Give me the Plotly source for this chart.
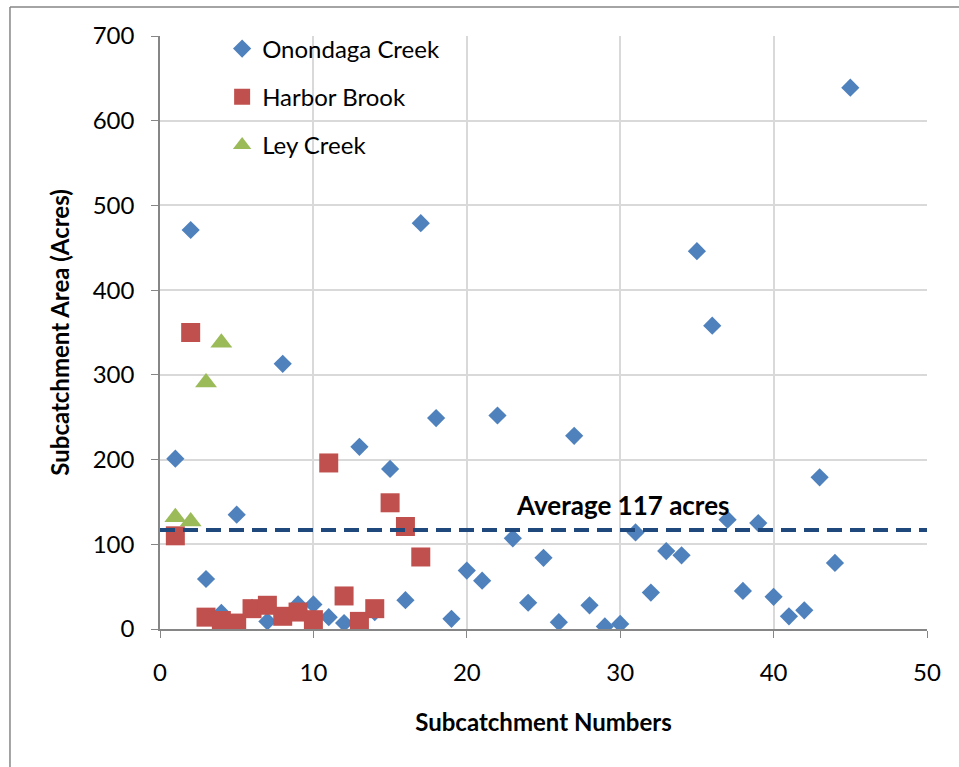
import plotly.graph_objects as go

# Onondaga Creek subcatchments
on_x = list(range(1, 46))
on_y = [201, 471, 59, 19, 135, 25, 9, 313, 29, 29,
        14, 7, 215, 20, 189, 34, 479, 249, 12, 69,
        57, 252, 107, 31, 84, 8, 228, 28, 3, 6,
        114, 43, 92, 87, 446, 358, 129, 45, 125, 38,
        15, 22, 179, 78, 639]

# Harbor Brook subcatchments
hb_x = list(range(1, 18))
hb_y = [110, 350, 14, 10, 7, 24, 28, 15, 20, 11,
        196, 39, 9, 24, 149, 121, 85]

# Ley Creek subcatchments
ley_x = [1, 2, 3, 4]
ley_y = [132, 127, 291, 338]

avg_value = 117
avg_x = [0, 50]
avg_y = [avg_value, avg_value]

FONT = "Lato, Calibri, Carlito, 'Open Sans', sans-serif"

fig = go.Figure()
fig.add_trace(go.Scatter(x=on_x, y=on_y, mode="markers", name="Onondaga Creek",
                         legendgroup="a",
                         marker=dict(symbol="diamond", size=14, color="#4F81BD")))
fig.add_trace(go.Scatter(x=hb_x, y=hb_y, mode="markers", name="Harbor Brook",
                         legendgroup="b",
                         marker=dict(symbol="square", size=19, color="#C0504D")))
fig.add_trace(go.Scatter(x=ley_x, y=ley_y, mode="markers", name="Ley Creek",
                         legendgroup="c",
                         marker=dict(symbol="triangle-up", size=19, color="#9BBB59")))
fig.add_trace(go.Scatter(x=avg_x, y=avg_y, mode="lines", showlegend=False,
                         line=dict(color="#1F497D", width=4, dash="15px,8px")))

fig.add_annotation(x=30.2, y=146, text="<b>Average 117 acres</b>", showarrow=False,
                   font=dict(family=FONT, size=26, color="#000000"))

# outer chart frame
fig.add_shape(type="line", xref="paper", yref="paper",
              x0=-0.1956, x1=-0.1956, y0=1.0489, y1=-0.25,
              line=dict(color="#868686", width=1.5))
fig.add_shape(type="line", xref="paper", yref="paper",
              x0=-0.1956, x1=1.06, y0=1.0489, y1=1.0489,
              line=dict(color="#868686", width=1.5))

fig.update_layout(
    width=959, height=767,
    margin=dict(l=160, r=32, t=36, b=138),
    paper_bgcolor="white", plot_bgcolor="white",
    font=dict(family=FONT, size=24, color="#000000"),
    showlegend=True,
    legend=dict(x=0.081, y=1.016, xanchor="left", yanchor="top",
                bgcolor="rgba(0,0,0,0)", tracegroupgap=14,
                font=dict(family=FONT, size=24, color="#000000")),
    xaxis=dict(range=[0, 50], dtick=10, showgrid=True, gridcolor="#D9D9D9", gridwidth=1.5,
               zeroline=False, showline=True, linecolor="#868686", linewidth=1.5,
               ticks="outside", ticklen=7, tickcolor="#868686", ticklabelstandoff=14,
               tickfont=dict(family=FONT, size=24),
               title=dict(text="<b>Subcatchment Numbers</b>", standoff=30,
                          font=dict(family=FONT, size=24))),
    yaxis=dict(range=[0, 700], dtick=100, showgrid=True, gridcolor="#D9D9D9", gridwidth=1.5,
               zeroline=False, showline=True, linecolor="#868686", linewidth=1.5,
               ticks="outside", ticklen=7, tickcolor="#868686", ticklabelstandoff=12,
               tickfont=dict(family=FONT, size=24),
               title=dict(text="<b>Subcatchment Area (Acres)</b>", standoff=16,
                          font=dict(family=FONT, size=24))),
)

fig.write_html("out.html", config={"displayModeBar": False},
               post_script="document.body.style.margin='0px';")
